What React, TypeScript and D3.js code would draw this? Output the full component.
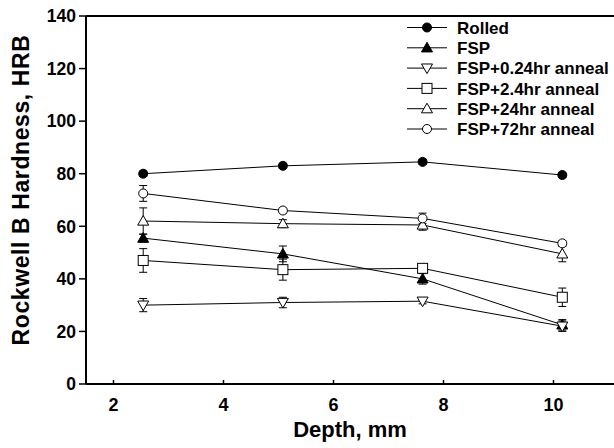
import React from 'react';
import * as d3 from 'd3';

const width = 614;
const height = 448;
const margin = {top: 16, left: 86, bottom: 64};

// depth (mm) where hardness was taken
const depths = [2.54, 5.08, 7.62, 10.16];

const seriesNames = ['Rolled', 'FSP', 'FSP+0.24hr anneal', 'FSP+2.4hr anneal', 'FSP+24hr anneal', 'FSP+72hr anneal'];
const seriesMarks = ['circleFill', 'triUpFill', 'triDown', 'square', 'triUp', 'circle'];

const rolled = [80, 83, 84.5, 79.5];
const fsp = [55.5, 49.5, 40, 22.5];
const fsp024 = [30, 31, 31.5, 22];
const fsp24h = [47, 43.5, 44, 33];
const fsp24 = [62, 61, 60.5, 49.5];
const fsp72 = [72.5, 66, 63, 53.5];

const rolledErr = [1, 1, 1, 1];
const fspErr = [1.5, 3, 2, 2];
const fsp024Err = [2.5, 2, 1, 2];
const fsp24hErr = [4.5, 4, 1.5, 3.5];
const fsp24Err = [5, 1.5, 2, 3];
const fsp72Err = [3, 1, 2, 1];

const yTicks = [0, 20, 40, 60, 80, 100, 120, 140];
const xTicks = [2, 4, 6, 8, 10];

const allValues = [rolled, fsp, fsp024, fsp24h, fsp24, fsp72];
const allErrs = [rolledErr, fspErr, fsp024Err, fsp24hErr, fsp24Err, fsp72Err];

const font = '"Liberation Sans", Arial, sans-serif';

const xScale = d3.scaleLinear().domain([1.5, 11.5]).range([margin.left, margin.left + 550]);
const yScale = d3.scaleLinear().domain([0, 140]).range([height - margin.bottom, margin.top]);

function Marker({kind, x, y}: {kind: string; x: number; y: number}) {
  const s = 5;
  if (kind === 'circleFill' || kind === 'circle') {
    return <circle cx={x} cy={y} r={4.5} fill={kind === 'circle' ? '#fff' : '#000'} stroke="#000" strokeWidth={1} />;
  }
  if (kind === 'square') {
    return <rect x={x - s} y={y - s} width={2 * s} height={2 * s} fill="#fff" stroke="#000" strokeWidth={1} />;
  }
  const up = kind !== 'triDown';
  const h = 5.5;
  const pts = up
    ? `${x},${y - h} ${x + h},${y + h * 0.75} ${x - h},${y + h * 0.75}`
    : `${x},${y + h} ${x + h},${y - h * 0.75} ${x - h},${y - h * 0.75}`;
  return <polygon points={pts} fill={kind === 'triUpFill' ? '#000' : '#fff'} stroke="#000" strokeWidth={1} />;
}

export default function App() {
  const line = d3.line<number>().x((d, i) => xScale(depths[i])).y(d => yScale(d));
  const x0 = margin.left;
  const y0 = yScale(0);

  return (
    <svg width={width} height={height} style={{position: 'absolute', left: 0, top: 0}} fontFamily={font}>
      {/* frame */}
      <line x1={x0} x2={width} y1={y0} y2={y0} stroke="#000" strokeWidth={2} />
      <line x1={x0} x2={width} y1={margin.top} y2={margin.top} stroke="#000" strokeWidth={2} />
      <line x1={x0} x2={x0} y1={margin.top} y2={y0} stroke="#000" strokeWidth={2} />

      {yTicks.map(t => (
        <g key={t}>
          <line x1={x0 - 7} x2={x0} y1={yScale(t)} y2={yScale(t)} stroke="#000" strokeWidth={1.5} />
          <text x={x0 - 10} y={yScale(t)} dy="0.36em" textAnchor="end" fontSize={17.5} fontWeight="bold">{t}</text>
        </g>
      ))}
      {xTicks.map(t => (
        <g key={t}>
          <line x1={xScale(t)} x2={xScale(t)} y1={y0} y2={y0 - 4} stroke="#000" strokeWidth={1.5} />
          <text x={xScale(t)} y={y0 + 27} textAnchor="middle" fontSize={18} fontWeight="bold">{t}</text>
        </g>
      ))}

      <text x={350} y={437} textAnchor="middle" fontSize={22} fontWeight="bold">Depth, mm</text>
      <text transform={`translate(29, 190) rotate(-90)`} textAnchor="middle" fontSize={23} fontWeight="bold" letterSpacing={0.6}>Rockwell B Hardness, HRB</text>

      {/* lines */}
      {allValues.map((vals, si) => (
        <path key={si} d={line(vals) || ''} fill="none" stroke="#000" strokeWidth={1} />
      ))}
      {/* error bars */}
      {allValues.map((vals, si) => vals.map((v, i) => {
        const x = xScale(depths[i]);
        const e = allErrs[si][i];
        const yt = yScale(v + e);
        const yb = yScale(v - e);
        return (
          <g key={`e${si}-${i}`} stroke="#000" strokeWidth={1}>
            <line x1={x} x2={x} y1={yt} y2={yb} />
            <line x1={x - 4} x2={x + 4} y1={yt} y2={yt} />
            <line x1={x - 4} x2={x + 4} y1={yb} y2={yb} />
          </g>
        );
      }))}
      {/* markers */}
      {allValues.map((vals, si) => vals.map((v, i) => (
        <Marker key={`m${si}-${i}`} kind={seriesMarks[si]} x={xScale(depths[i])} y={yScale(v)} />
      )))}

      {/* legend */}
      {seriesNames.map((name, i) => {
        const ly = 27.5 + i * 20.3;
        return (
          <g key={name}>
            <line x1={407} x2={447} y1={ly} y2={ly} stroke="#000" strokeWidth={1} />
            <Marker kind={seriesMarks[i]} x={427} y={ly} />
            <text x={457} y={ly} dy="0.36em" fontSize={17} fontWeight="bold">{name}</text>
          </g>
        );
      })}
    </svg>
  );
}
